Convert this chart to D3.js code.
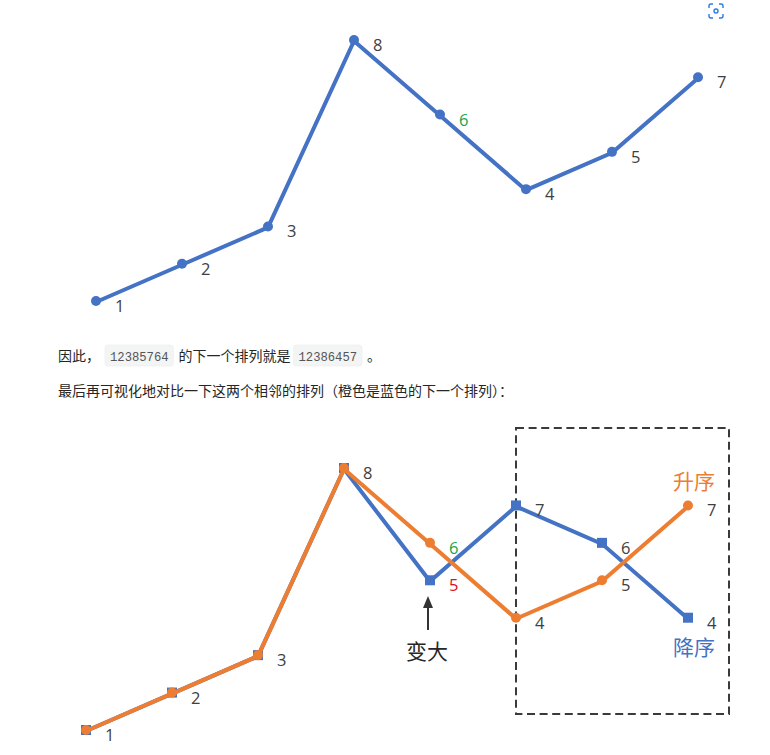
<!DOCTYPE html>
<html><head><meta charset="utf-8">
<script src="https://cdn.jsdelivr.net/npm/d3@7"></script>
<style>
html,body{margin:0;padding:0;background:#fff;}
svg{display:block;}
</style></head>
<body>
<script>
// ---- data ----
const positions = [0,1,2,3,4,5,6,7];
const topValues = [1,2,3,8,6,4,5,7];
const topLabelColors = ["#404040","#404040","#404040","#404040","#1aa34a","#404040","#404040","#404040"];
const blueValues = [1,2,3,8,5,7,6,4];
const orangeValues = [1,2,3,8,6,4,5,7];
const blueLabelColors = [null,null,null,null,"#e0101c","#404040","#404040","#404040"];
const orangeLabelColors = ["#404040","#404040","#404040","#404040","#1aa34a","#404040","#404040","#404040"];
const line1Parts = ["因此，", "12385764", "的下一个排列就是", "12386457", "。"];
const line2Text = "最后再可视化地对比一下这两个相邻的排列（橙色是蓝色的下一个排列）：";
const ascLabel = "升序", descLabel = "降序", biggerLabel = "变大";

const W = 770, H = 755;
const BLUE = "#4472c4", ORANGE = "#ed7d31";
const svg = d3.select("body").append("svg").attr("width", W).attr("height", H);
const numFont = "'Open Sans', 'Noto Sans', sans-serif";
const cjk = "'Noto Sans CJK SC', sans-serif";
const labFont = 16.5;

// ---- top chart ----
const x1 = d3.scaleLinear().domain([0,7]).range([96,698]);
const y1 = d3.scaleLinear().domain([1,8]).range([302,41]);
const g1 = svg.append("g");
g1.append("path").datum(topValues)
  .attr("d", d3.line().x((d,i)=>x1(i)).y(d=>y1(d)))
  .attr("fill","none").attr("stroke",BLUE).attr("stroke-width",4).attr("stroke-linejoin","miter");
g1.selectAll("circle").data(topValues).join("circle")
  .attr("cx",(d,i)=>x1(i)).attr("cy",d=>y1(d)-1).attr("r",5).attr("fill",BLUE);
g1.selectAll("text").data(topValues).join("text")
  .attr("x",(d,i)=>x1(i)+19).attr("y",d=>y1(d)+10)
  .attr("font-family",numFont).attr("font-size",labFont).attr("fill",(d,i)=>topLabelColors[i])
  .text(d=>d);

// icon top-right
const ig = svg.append("g").attr("transform","translate(716,11)").attr("fill","none").attr("stroke","#2d7be5").attr("stroke-width",1.4);
ig.append("path").attr("d","M-7,-3 V-5 Q-7,-7 -5,-7 H-3 M3,-7 H5 Q7,-7 7,-5 V-3 M7,3 V5 Q7,7 5,7 H3 M-3,7 H-5 Q-7,7 -7,5 V3");
ig.append("circle").attr("r",2);

// ---- paragraph text ----
const tg = svg.append("g");
let cx = 58;
const baseY = 361;
function addText(t){
  const el = tg.append("text").attr("x",cx).attr("y",baseY).attr("font-family",cjk).attr("font-size",14).attr("fill","#262626").text(t);
  cx += el.node().getComputedTextLength();
}
function addCode(t){
  cx += 3;
  const r = tg.append("rect").attr("y",345).attr("height",21).attr("rx",3).attr("fill","#f3f4f4").attr("stroke","#ececec").attr("stroke-width",0.6);
  const el = tg.append("text").attr("x",cx+5).attr("y",baseY).attr("font-family","'Liberation Mono', 'DejaVu Sans Mono', monospace").attr("font-size",12.2).attr("fill","#555").text(t);
  const w = el.node().getComputedTextLength();
  r.attr("x",cx).attr("width",w+10);
  cx += w + 10 + 5;
}
addText(line1Parts[0]); cx += 2;
addCode(line1Parts[1]);
addText(line1Parts[2]);
addCode(line1Parts[3]);
addText(line1Parts[4]);
tg.append("text").attr("x",58).attr("y",396).attr("font-family",cjk).attr("font-size",14).attr("fill","#262626").text(line2Text);

// ---- bottom chart ----
const x2 = d3.scaleLinear().domain([0,7]).range([86,688]);
const y2 = d3.scaleLinear().domain([1,8]).range([731,469]);
const g2 = svg.append("g");

// dashed box
g2.append("rect").attr("x",516).attr("y",428).attr("width",213).attr("height",286)
  .attr("fill","none").attr("stroke","#3a3a3a").attr("stroke-width",2).attr("stroke-dasharray","8,4.6");

const ln = d3.line().x((d,i)=>x2(i)).y(d=>y2(d));
g2.append("path").datum(blueValues).attr("d",ln).attr("fill","none").attr("stroke",BLUE).attr("stroke-width",4);
g2.selectAll("rect.sq").data(blueValues).join("rect").attr("class","sq")
  .attr("x",(d,i)=>x2(i)-5).attr("y",d=>y2(d)-6).attr("width",10).attr("height",10).attr("fill",BLUE);
g2.append("path").datum(orangeValues).attr("d",ln).attr("fill","none").attr("stroke",ORANGE).attr("stroke-width",4);
g2.selectAll("circle").data(orangeValues).join("circle")
  .attr("cx",(d,i)=>x2(i)).attr("cy",d=>y2(d)-1).attr("r",5).attr("fill",ORANGE);

// labels
g2.selectAll("text.ol").data(orangeValues).join("text").attr("class","ol")
  .attr("x",(d,i)=>x2(i)+19).attr("y",d=>y2(d)+10)
  .attr("font-family",numFont).attr("font-size",labFont).attr("fill",(d,i)=>orangeLabelColors[i]).text(d=>d);
g2.selectAll("text.bl").data(blueValues.map((v,i)=>({v,i})).filter(d=>blueLabelColors[d.i])).join("text").attr("class","bl")
  .attr("x",d=>x2(d.i)+19).attr("y",d=>y2(d.v)+10)
  .attr("font-family",numFont).attr("font-size",labFont).attr("fill",d=>blueLabelColors[d.i]).text(d=>d.v);

g2.append("text").attr("x",673).attr("y",489).attr("font-family",cjk).attr("font-size",21).attr("fill",ORANGE).text(ascLabel);
g2.append("text").attr("x",673).attr("y",655).attr("font-family",cjk).attr("font-size",21).attr("fill",BLUE).text(descLabel);
g2.append("text").attr("x",406).attr("y",659).attr("font-family",cjk).attr("font-size",21).attr("fill","#262626").text(biggerLabel);

// arrow
g2.append("line").attr("x1",428).attr("y1",630).attr("x2",428).attr("y2",604).attr("stroke","#333").attr("stroke-width",2);
g2.append("path").attr("d","M428,596 L423,608 L433,608 Z").attr("fill","#333");
</script>
</body></html>
